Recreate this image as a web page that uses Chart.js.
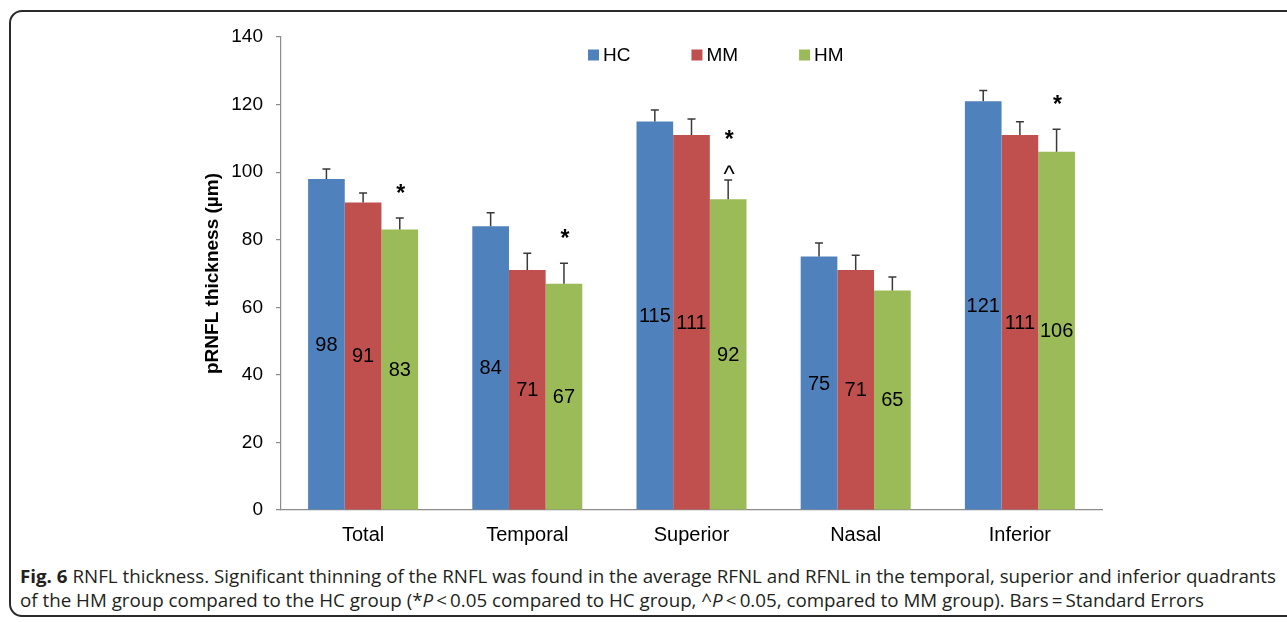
<!DOCTYPE html>
<html>
<head>
<meta charset="utf-8">
<script src="https://cdn.jsdelivr.net/npm/chart.js@4"></script>
<style>
  html, body { margin: 0; padding: 0; background: #fff; }
  #page { position: relative; width: 1287px; height: 622px; overflow: hidden; background: #fff; }
  #frame {
    position: absolute; left: 9px; top: 10px; width: 1300px; height: 607px;
    border: 2px solid #2b2b2b; border-radius: 13px; box-sizing: border-box;
  }
  #chart { position: absolute; left: 0; top: 0; }
  #caption {
    position: absolute; left: 20px; top: 564px; white-space: nowrap;
    font-family: "Open Sans", "Noto Sans", sans-serif; font-size: 17.5px; line-height: 24px;
    color: #231f20; transform-origin: 0 0;
  }
  #caption b { font-weight: 700; }
</style>
</head>
<body>
<div id="page">
  <div id="frame"></div>
  <canvas id="chart" width="1287" height="560"></canvas>
  <div id="caption">
    <div id="capLine1"><b>Fig. 6</b> RNFL thickness. Significant thinning of the RNFL was found in the average RFNL and RFNL in the temporal, superior and inferior quadrants</div>
    <div>of the HM group compared to the HC group (*<i>P</i>&thinsp;&lt;&thinsp;0.05 compared to HC group, ^<i>P</i>&thinsp;&lt;&thinsp;0.05, compared to MM group). Bars&thinsp;=&thinsp;Standard Errors</div>
  </div>
</div>
<script>
// Regions of the peripapillary RNFL
const regions = ['Total', 'Temporal', 'Superior', 'Nasal', 'Inferior'];

// Group names
const groupNames = ['HC', 'MM', 'HM'];

// Mean thickness (µm)
const hcMeans = [98, 84, 115, 75, 121];
const mmMeans = [91, 71, 111, 71, 111];
const hmMeans = [83, 67, 92, 65, 106];

// Standard errors (µm)
const hcErrors = [2.9, 4.0, 3.4, 4.0, 3.2];
const mmErrors = [2.8, 5.0, 4.7, 4.4, 3.9];
const hmErrors = [3.4, 6.0, 5.7, 4.0, 6.7];

// HM significance markers: * vs HC, ^ vs MM
const hmVsHC = [true, true, true, false, true];
const hmVsMM = [false, false, true, false, false];

// Y axis ticks
const yTicks = [0, 20, 40, 60, 80, 100, 120, 140];

const colors = ['#4f81bd', '#c0504d', '#9bbb59'];
const FONT = '"Liberation Sans", Arial, sans-serif';

const meansList = [hcMeans, mmMeans, hmMeans];
const errorsList = [hcErrors, mmErrors, hmErrors];

const datasets = groupNames.map((name, i) => ({
  label: name,
  data: meansList[i],
  errors: errorsList[i],
  backgroundColor: colors[i],
  borderWidth: 0,
  categoryPercentage: 0.67,
  barPercentage: 1.0
}));

// Error bars, value labels and significance markers
const decorations = {
  id: 'decorations',
  afterDatasetsDraw(chart) {
    const ctx = chart.ctx;
    const y = chart.scales.y;
    ctx.save();
    chart.data.datasets.forEach((ds, di) => {
      const meta = chart.getDatasetMeta(di);
      meta.data.forEach((bar, i) => {
        const v = ds.data[i];
        const capY = y.getPixelForValue(v + ds.errors[i]);
        // error bar (upper arm with cap)
        ctx.strokeStyle = '#3a3a3a';
        ctx.lineWidth = 1.5;
        ctx.beginPath();
        ctx.moveTo(bar.x, bar.y);
        ctx.lineTo(bar.x, capY);
        ctx.moveTo(bar.x - 4, capY);
        ctx.lineTo(bar.x + 4, capY);
        ctx.stroke();
        // value label centred in the bar
        ctx.fillStyle = '#000';
        ctx.font = '20px ' + FONT;
        ctx.textAlign = 'center';
        ctx.textBaseline = 'middle';
        ctx.fillText(String(v), bar.x, (bar.y + bar.base) / 2 + 1);
        // significance markers above the HM bars
        if (di === 2) {
          ctx.textBaseline = 'alphabetic';
          if (hmVsMM[i]) {
            ctx.font = '24px ' + FONT;
            ctx.fillText('^', bar.x + 1, capY - 11 + 13);
          }
          if (hmVsHC[i]) {
            ctx.font = 'bold 23px ' + FONT;
            const cy = hmVsMM[i] ? capY - 46 : capY - 30;
            ctx.fillText('*', bar.x + 1, cy + 13);
          }
        }
      });
    });
    ctx.restore();
  }
};

// Legend drawn as a single row above the bars
const topLegend = {
  id: 'topLegend',
  afterDraw(chart) {
    const ctx = chart.ctx;
    const area = chart.chartArea;
    ctx.save();
    ctx.font = '19px ' + FONT;
    ctx.textBaseline = 'middle';
    ctx.textAlign = 'left';
    let x = area.left + 307;
    const cy = area.top + 18;
    chart.data.datasets.forEach((ds) => {
      ctx.fillStyle = ds.backgroundColor;
      ctx.fillRect(x, cy - 5.5, 11, 11);
      ctx.fillStyle = '#000';
      ctx.fillText(ds.label, x + 15, cy + 1);
      x += 15 + ctx.measureText(ds.label).width + 61;
    });
    ctx.restore();
  }
};

new Chart(document.getElementById('chart'), {
  type: 'bar',
  data: { labels: regions, datasets },
  options: {
    responsive: false,
    animation: false,
    devicePixelRatio: 1,
    layout: { padding: { left: 195, right: 185, top: 37, bottom: 10 } },
    plugins: { legend: { display: false }, tooltip: { enabled: false } },
    scales: {
      x: {
        grid: { display: false, drawTicks: false },
        border: { display: true, color: '#8c8c8c', width: 1.2 },
        ticks: { color: '#000', font: { family: FONT, size: 20 }, padding: 13 },
        afterFit(s) { s.height = 40; }
      },
      y: {
        min: 0,
        max: 140,
        afterBuildTicks(s) { s.ticks = yTicks.map(v => ({ value: v })); },
        grid: { drawOnChartArea: false, drawTicks: true, tickLength: 5, color: '#8c8c8c', lineWidth: 1.2 },
        border: { display: true, color: '#8c8c8c', width: 1.2 },
        ticks: { color: '#000', font: { family: FONT, size: 19 }, padding: 13 },
        title: {
          display: true,
          text: 'pRNFL thickness (µm)',
          color: '#000',
          font: { family: FONT, size: 19, weight: 'bold' },
          padding: { top: 6, bottom: 0 }
        },
        afterFit(s) { s.width = 86; }
      }
    }
  },
  plugins: [decorations, topLegend]
});

// fit the caption lines to the frame width
const cap = document.getElementById('caption');
const line1 = document.getElementById('capLine1');
const r = document.createRange();
r.selectNodeContents(line1);
const textW = r.getBoundingClientRect().width;
cap.style.transform = 'scaleX(' + (1256 / textW) + ')';
</script>
</body>
</html>
